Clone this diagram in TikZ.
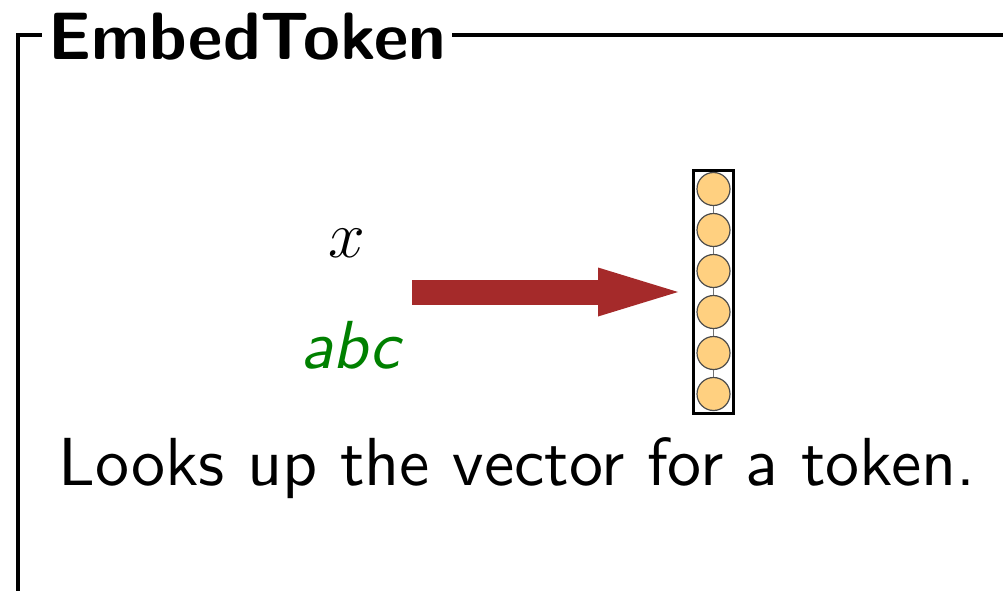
\RequirePackage{fix-cm}
\documentclass[tikz,border=0pt]{standalone}
\usepackage{fontspec}
\setsansfont{lmsans10-regular}[Extension=.otf,BoldFont=lmsans10-bold,ItalicFont=lmsans10-oblique]
\usepackage{xcolor}
\usetikzlibrary{arrows.meta}

\definecolor{arrowred}{RGB}{165,42,42}
\definecolor{unitfill}{RGB}{255,208,128}
\definecolor{tokgreen}{RGB}{0,128,0}

\newcommand{\bigfont}{\fontsize{68}{74}\selectfont}

\tikzset{
	unit/.style={circle,draw=black!70,fill=unitfill,line width=1.2pt,minimum size=33pt,inner sep=0pt},
	unitlink/.style={draw=black!55,line width=1.2pt},
	vecbox/.style={draw,line width=3pt,minimum width=40pt,minimum height=243pt,inner sep=0pt},
	lookup/.style={arrowred,line width=25pt,-{Triangle[length=80pt,width=49pt,line width=0pt]}}
}

\begin{document}
\begin{tikzpicture}[x=1pt,y=-1pt]
	\useasboundingbox (0,0) rectangle (1003,591);
	% frame with its title
	\draw[line width=4pt] (18,600) -- (18,35) -- (1010,35);
	\node[fill=white,inner xsep=6pt,inner ysep=2pt,anchor=base west,font=\fontsize{67}{72}\selectfont\sffamily\bfseries] (title) at (42,60) {EmbedToken};

	% input token
	\node[anchor=base,font=\fontsize{66}{72}\selectfont] (sym) at (347,257) {$x$};
	\node[anchor=base,text=tokgreen,font=\bigfont\sffamily\itshape] (tok) at (350,368) {abc};

	% embedding vector
	\node[vecbox] (vec) at (713.5,292) {};
	\foreach \i in {1,...,6}
		\node[unit] (u\i) at (713.5,{148+41*\i}) {};
	\foreach \i/\j in {1/2,2/3,3/4,4/5,5/6}
		\draw[unitlink] (u\i) -- (u\j);

	\coordinate (src) at (412,292);
	\draw[lookup,shorten >=14pt] (src) -- (vec.west);

	\node[anchor=base,font=\bigfont\sffamily] (desc) at (517,485) {Looks up the vector for a token.};
\end{tikzpicture}
\end{document}
